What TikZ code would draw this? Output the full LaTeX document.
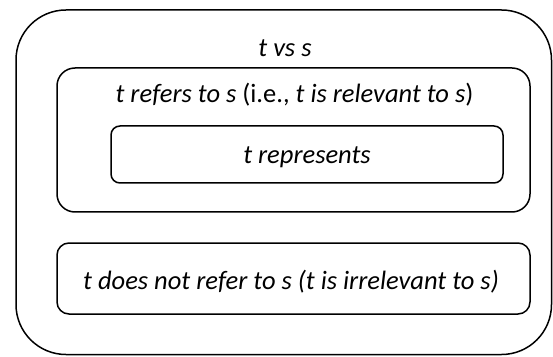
\documentclass[tikz,border=0pt]{standalone}
\usepackage{fontspec}
\setmainfont{Carlito}
\begin{document}
\begin{tikzpicture}[x=1pt,y=1pt,
  box/.style={draw=black,line width=1.5pt},
  lbl/.style={anchor=base,inner sep=0pt,font=\fontsize{26.5}{30}\selectfont\itshape}]
\useasboundingbox (0,0) rectangle (553,356);
\draw[box,rounded corners=50pt] (16,1.5) rectangle (551.5,346);
\draw[box,rounded corners=18pt] (57,144) rectangle (530,288);
\draw[box,rounded corners=9pt] (111,173) rectangle (503,230);
\draw[box,rounded corners=12pt] (57,42) rectangle (530,113);
\node[lbl] (outer) at (285,299) {t vs s};
\node[lbl] (refers) at (294.5,253) {t refers to s \upshape(i.e., \itshape t is relevant to s\upshape)};
\node[lbl] (repr) at (307,192) {t represents};
\node[lbl] (notref) at (291,67) {t does not refer to s (t is irrelevant to s)};
\end{tikzpicture}
\end{document}
